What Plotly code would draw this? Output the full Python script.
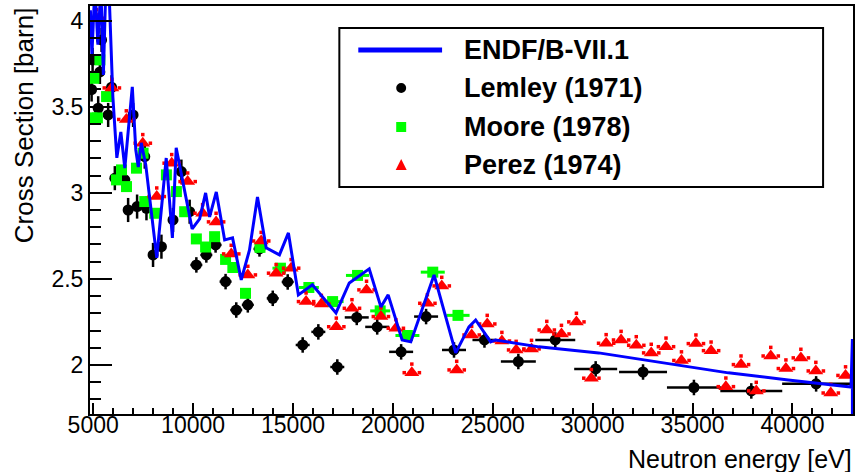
import numpy as np
import plotly.graph_objects as go

# ---------------- data ----------------
endf_x = [4860, 4935, 5085, 5235, 5384, 5509, 5634, 5784, 5984, 6183, 6383, 6583,
          6957, 7132, 7257, 7407, 7631, 8181, 8655, 8964, 9154, 9953, 10327, 10627,
          10827, 11161, 11579, 11975, 12410, 12824, 13223, 13658, 14322, 14771,
          15270, 15969, 17153, 17817, 18815, 19400, 19764, 20463, 20898, 22061,
          23145, 23808, 24143, 24892, 25142, 27304, 30300, 33296, 36791, 39787,
          42932, 43000, 43000]
endf_y = [4.06, 3.80, 4.20, 3.86, 4.20, 3.685, 4.20, 4.20, 3.557, 3.203, 3.353, 3.144,
          3.615, 3.249, 3.150, 3.290, 3.162, 2.622, 3.202, 2.738, 3.261, 2.790, 2.848,
          2.999, 2.860, 3.005, 2.726, 2.738, 2.494, 2.668, 2.976, 2.680, 2.639, 2.767,
          2.407, 2.465, 2.302, 2.476, 2.558, 2.337, 2.407, 2.145, 2.134, 2.523,
          2.070, 2.221, 2.261, 2.134, 2.145, 2.105, 2.070, 2.017, 1.954, 1.913,
          1.872, 2.15, 1.50]

lemley_x = [4920, 4970, 5250, 5335, 5419, 5749, 5919, 6083, 6583, 6748, 6997, 7197,
            7581, 7666, 7996, 8415, 8994, 9414, 9828, 10163, 10662, 11126, 11626,
            12160, 12739, 13323, 13987, 14736, 15485, 16269, 17218, 18191, 19215,
            20413, 21662, 23059, 24583, 26280, 28128, 30150, 32521, 35068, 37939, 41184]
lemley_y = [3.600, 3.772, 3.491, 3.702, 3.888, 3.452, 3.613, 3.085, 3.075, 2.900, 3.452,
            2.920, 3.210, 2.910, 2.639, 2.687, 2.842, 3.123, 2.890, 2.581, 2.639, 2.697,
            2.484, 2.319, 2.349, 2.674, 2.387, 2.482, 2.116, 2.192, 1.988, 2.276, 2.221,
            2.076, 2.281, 2.087, 2.145, 2.020, 2.145, 1.977, 1.959, 1.869, 1.849, 1.890]
lemley_xerr = [150] * 19 + [300] * 9 + [350] * 3 + [600] * 5 + [600, 875, 1000, 1075,
                                                                1200, 1350, 1550, 1700]
lemley_yerr = [0.07] * 19 + [0.045] * 25

moore_x = [4935, 5035, 5210, 5335, 5669, 6168, 6418, 6668, 7167, 7497, 7581, 8081,
           8665, 9164, 9579, 10163, 10627, 11077, 11626, 11990, 12624, 13348, 14372,
           15795, 16983, 18231, 19364, 20728, 21996, 23259]
moore_y = [3.435, 3.665, 3.435, 3.772, 3.559, 3.075, 3.133, 3.036, 3.143, 3.230, 2.949,
           2.881, 3.104, 3.007, 2.890, 2.732, 2.685, 2.745, 2.613, 2.566, 2.416, 2.683,
           2.562, 2.450, 2.368, 2.520, 2.314, 2.171, 2.539, 2.288]
moore_xerr = [0] * 22 + [400, 500, 550, 580, 500, 600, 600, 580]

perez_x = [5170, 5934, 6658, 7482, 8181, 8930, 9728, 10477, 11151, 11910, 12739, 13408,
           14157, 14906, 15655, 16419, 17168, 17952, 18681, 19400, 20149, 20948, 21727,
           22446, 23194, 23943, 24722, 25456, 26170, 26939, 27703, 28437, 29186, 29935,
           30674, 31423, 32182, 32931, 33670, 34444, 35168, 35927, 36666, 37425, 38189,
           38913, 39672, 40421, 41170, 41918, 42657]
perez_y = [4.014, 3.609, 3.426, 3.288, 2.978, 3.172, 3.065, 2.881, 2.831, 2.645, 2.523,
           2.720, 2.533, 2.562, 2.368, 2.354, 2.222, 2.329, 2.436, 2.281, 2.213, 1.955,
           2.358, 2.459, 1.971, 2.174, 2.238, 2.139, 2.087, 2.093, 2.203, 2.180, 2.250,
           1.923, 2.126, 2.145, 2.114, 2.070, 2.106, 2.026, 2.124, 2.083, 1.874, 2.002,
           1.849, 2.052, 1.979, 2.041, 1.965, 1.837, 1.939]
perez_xerr = 380
perez_yerr = 0.05

legend_labels = ["ENDF/B-VII.1", "Lemley (1971)", "Moore (1978)", "Perez (1974)"]
x_title = "Neutron energy [eV]"
y_title = "Cross Section [barn]"

# ---------------- styling ----------------
FONT = "Liberation Sans, Arial, sans-serif"
BLUE, GREEN, RED = "#0000ff", "#00ff00", "#ff0000"

W, H = 856, 472
L, R, T, B = 90, 855, 6, 414


def xp(px):
    return (px - L) / (R - L)


def yp(py):
    return (B - py) / (B - T)


fig = go.Figure()

fig.add_trace(go.Scatter(
    x=lemley_x, y=lemley_y, mode="markers",
    marker=dict(symbol="circle", size=11, color="black"),
    error_x=dict(type="data", array=lemley_xerr, color="black", thickness=2.5, width=0),
    error_y=dict(type="data", array=lemley_yerr, color="black", thickness=2.5, width=0),
    showlegend=False))

fig.add_trace(go.Scatter(
    x=moore_x, y=moore_y, mode="markers",
    marker=dict(symbol="square", size=11, color=GREEN),
    error_x=dict(type="data", array=moore_xerr, color=GREEN, thickness=3, width=0),
    showlegend=False))

px_arr = np.array(perez_x, dtype=float)
py_arr = np.array(perez_y, dtype=float)
dots_x = np.concatenate([px_arr - perez_xerr, px_arr + perez_xerr, px_arr])
dots_y = np.concatenate([py_arr, py_arr, py_arr + perez_yerr])
fig.add_trace(go.Scatter(
    x=dots_x, y=dots_y, mode="markers",
    marker=dict(symbol="square", size=3.5, color=RED),
    showlegend=False, hoverinfo="skip"))

fig.add_trace(go.Scatter(
    x=perez_x, y=perez_y, mode="markers",
    marker=dict(symbol="triangle-up", size=13, color=RED),
    showlegend=False))

fig.add_trace(go.Scatter(
    x=endf_x, y=endf_y, mode="lines",
    line=dict(color=BLUE, width=3),
    showlegend=False))

axis_common = dict(
    showline=True, linecolor="black", linewidth=2, mirror=True,
    ticks="inside", tickcolor="black", tickwidth=2,
    showgrid=False, zeroline=False,
    tickfont=dict(family=FONT, size=23, color="black"),
)

fig.update_xaxes(
    range=[4840, 43030], tick0=5000, dtick=5000, ticklen=11, tickformat="d",
    ticklabelstandoff=-11,
    minor=dict(dtick=1000, tick0=0, ticks="inside", ticklen=6, tickcolor="black",
               tickwidth=2, showgrid=False),
    **axis_common)
fig.update_yaxes(
    range=[1.715, 4.085], tick0=2, dtick=0.5, ticklen=22,
    minor=dict(dtick=0.1, tick0=2, ticks="inside", ticklen=11, tickcolor="black",
               tickwidth=2, showgrid=False),
    **axis_common)

shapes = []
# legend box
shapes.append(dict(type="rect", xref="paper", yref="paper",
                   x0=xp(340), x1=xp(825), y0=yp(187), y1=yp(28),
                   line=dict(color="black", width=2), fillcolor="white", layer="above"))
rows = [50, 88, 127, 165]
mx = 402
shapes.append(dict(type="line", xref="paper", yref="paper",
                   x0=xp(359), x1=xp(443), y0=yp(rows[0]), y1=yp(rows[0]),
                   line=dict(color=BLUE, width=5)))
shapes.append(dict(type="circle", xref="paper", yref="paper",
                   x0=xp(mx - 5), x1=xp(mx + 5), y0=yp(rows[1] + 5), y1=yp(rows[1] - 5),
                   line=dict(width=0), fillcolor="black"))
shapes.append(dict(type="rect", xref="paper", yref="paper",
                   x0=xp(mx - 5), x1=xp(mx + 5), y0=yp(rows[2] + 5), y1=yp(rows[2] - 5),
                   line=dict(width=0), fillcolor=GREEN))
tri = "M {:.5f} {:.5f} L {:.5f} {:.5f} L {:.5f} {:.5f} Z".format(
    xp(mx - 5.5), yp(rows[3] + 5), xp(mx + 5.5), yp(rows[3] + 5), xp(mx), yp(rows[3] - 6))
shapes.append(dict(type="path", xref="paper", yref="paper", path=tri,
                   line=dict(width=0), fillcolor=RED))

annotations = []
for lab, r in zip(legend_labels, rows):
    annotations.append(dict(
        text=lab, xref="paper", yref="paper", x=xp(463), y=yp(r),
        xanchor="left", yanchor="middle", showarrow=False,
        font=dict(family=FONT, size=27, color="black", weight="bold")))

annotations.append(dict(
    text=y_title, xref="paper", yref="paper", x=xp(24), y=yp(5),
    xanchor="center", yanchor="top", textangle=-90, showarrow=False,
    font=dict(family=FONT, size=26, color="black")))
annotations.append(dict(
    text=x_title, xref="paper", yref="paper", x=xp(856), y=yp(459),
    xanchor="right", yanchor="middle", showarrow=False,
    font=dict(family=FONT, size=25, color="black")))

fig.update_layout(
    width=W, height=H,
    margin=dict(l=L, r=W - R, t=T, b=H - B),
    paper_bgcolor="white", plot_bgcolor="white",
    shapes=shapes, annotations=annotations,
    showlegend=False,
)

fig.write_html("out.html")
